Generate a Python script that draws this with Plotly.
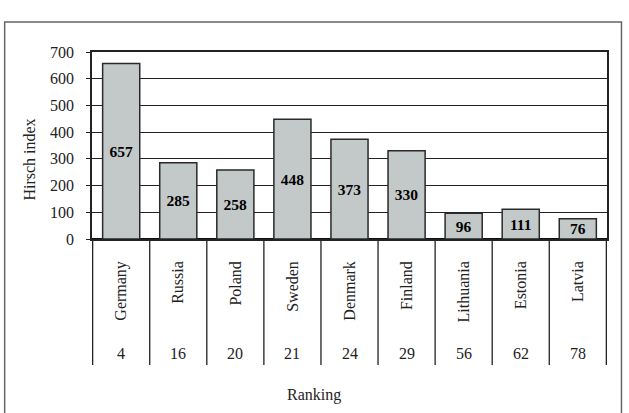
import plotly.graph_objects as go

countries = ["Germany", "Russia", "Poland", "Sweden", "Denmark", "Finland", "Lithuania", "Estonia", "Latvia"]
hirsch = [657, 285, 258, 448, 373, 330, 96, 111, 76]
ranking = [4, 16, 20, 21, 24, 29, 56, 62, 78]
y_ticks = [0, 100, 200, 300, 400, 500, 600, 700]

FONT = "Liberation Serif, Times New Roman, serif"
W, H = 629, 413
L, R, T, B = 91.5, 21.5, 52, 174
PW, PH = W - L - R, H - T - B


def px_x(p):
    return (p - L) / PW


def px_y(p):
    return (H - B - p) / PH


fig = go.Figure()
fig.add_trace(go.Bar(
    x=countries, y=hirsch,
    marker=dict(color="#c3c9c9", line=dict(color="#2a2a2a", width=1.5)),
    text=hirsch, texttemplate="<b>%{text}</b>",
    textposition="inside", insidetextanchor="middle", textangle=0,
    constraintext="none",
    textfont=dict(family=FONT, size=15.5, color="black"),
    hoverinfo="skip",
))

# separators of the category table
for i in range(len(countries) + 1):
    fig.add_shape(type="line", xref="x", yref="paper",
                  x0=i - 0.5, x1=i - 0.5, y0=0, y1=px_y(365),
                  line=dict(color="#222", width=1.3))

# ranking row
for c, r in zip(countries, ranking):
    fig.add_annotation(x=c, xref="x", y=px_y(353), yref="paper",
                       text=str(r), showarrow=False, xanchor="center", yanchor="middle",
                       font=dict(family=FONT, size=16, color="#222"))

fig.add_annotation(x=px_x(314), xref="paper", y=px_y(395), yref="paper",
                   text="Ranking", showarrow=False, xanchor="center", yanchor="middle",
                   font=dict(family=FONT, size=16, color="#222"))
fig.add_annotation(x=px_x(28), xref="paper", y=px_y(160), yref="paper",
                   text="Hirsch index", textangle=-90, showarrow=False,
                   xanchor="center", yanchor="middle",
                   font=dict(family=FONT, size=16, color="#222"))

# outer frame
fig.add_shape(type="rect", xref="paper", yref="paper",
              x0=px_x(4), x1=px_x(622), y0=px_y(430), y1=px_y(22),
              line=dict(color="#666", width=1.5), fillcolor="rgba(0,0,0,0)")

fig.update_layout(
    width=W, height=H,
    margin=dict(l=L, r=R, t=T, b=B),
    paper_bgcolor="white", plot_bgcolor="white",
    bargap=0.35, showlegend=False,
    font=dict(family=FONT, size=16, color="#222"),
)
fig.update_yaxes(range=[0, 700], tickvals=y_ticks, showgrid=True,
                 gridcolor="#222", gridwidth=1.2,
                 ticks="outside", ticklen=4, tickcolor="#222", tickwidth=1.2,
                 ticklabelstandoff=9,
                 showline=True, mirror=True, linecolor="#222", linewidth=1.5,
                 zeroline=True, zerolinecolor="#111", zerolinewidth=2,
                 tickfont=dict(family=FONT, size=16, color="#222"))
fig.update_xaxes(type="category", tickangle=-90, ticks="",
                 ticklabelstandoff=14,
                 showline=True, mirror=True, linecolor="#222", linewidth=1.5,
                 tickfont=dict(family=FONT, size=16, color="#222"))

fig.write_html("out.html")
